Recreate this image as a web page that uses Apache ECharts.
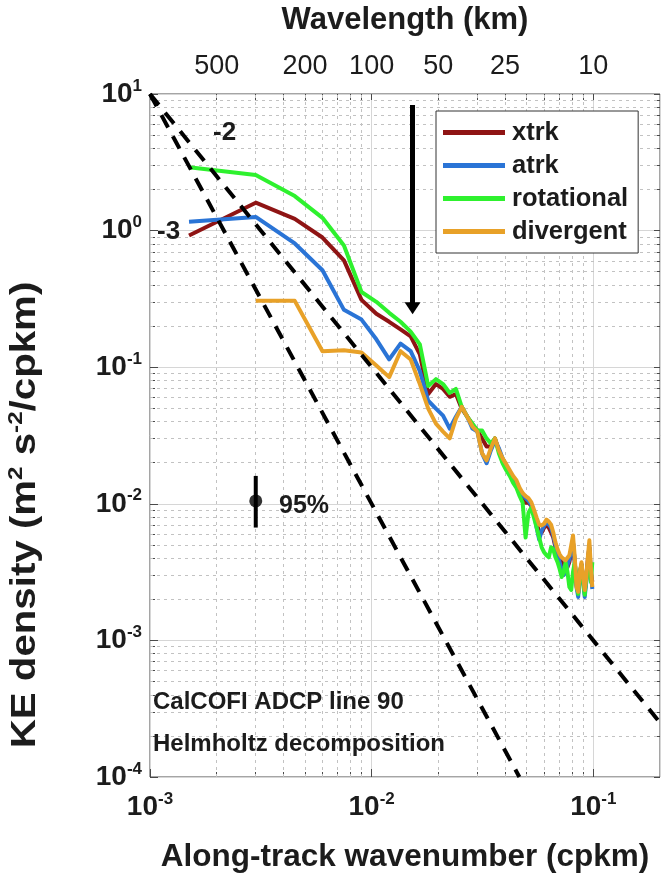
<!DOCTYPE html>
<html>
<head>
<meta charset="utf-8">
<script src="https://cdn.jsdelivr.net/npm/echarts@6/dist/echarts.min.js"></script>
<style>
  html, body { margin: 0; padding: 0; background: #fff; }
  #chart { width: 664px; height: 878px; }
</style>
</head>
<body>
<div id="chart"></div>
<script>
// Along-track wavenumber (cpkm) of each spectral estimate
const wavenumber = [
  0.0015, 0.003, 0.0045, 0.006, 0.0075, 0.009, 0.0105, 0.012, 0.0135, 0.015,
  0.0165, 0.018, 0.0195, 0.021, 0.0225, 0.024, 0.0255, 0.027, 0.0285, 0.03,
  0.0315, 0.033, 0.0345, 0.036, 0.0375, 0.039, 0.0405, 0.042, 0.0435, 0.045,
  0.0465, 0.048, 0.0495, 0.051, 0.0525, 0.054, 0.0555, 0.057, 0.0585, 0.06,
  0.0615, 0.063, 0.0645, 0.066, 0.0675, 0.069, 0.0705, 0.072, 0.0735, 0.075,
  0.0765, 0.078, 0.0795, 0.081, 0.0825, 0.084, 0.0855, 0.087, 0.0885, 0.09,
  0.0915, 0.093, 0.0945, 0.096, 0.0975, 0.099
];

// KE spectral density (m^2 s^-2 / cpkm)
const xtrk = [
  0.920, 1.60, 1.22, 0.890, 0.606, 0.311, 0.246, 0.215, 0.189, 0.168,
  0.124, 0.0637, 0.0753, 0.0693, 0.0607, 0.0637, 0.0497, 0.0434, 0.0380, 0.0344,
  0.0301, 0.0263, 0.0263, 0.0301, 0.0246, 0.0208, 0.0182, 0.0165, 0.0149, 0.0135,
  0.0120, 0.0110, 0.0102, 0.0102, 0.00968, 0.00861, 0.00729, 0.00616, 0.00616, 0.00670,
  0.00693, 0.00670, 0.00616, 0.00567, 0.00480, 0.00420, 0.00386, 0.00374, 0.00355, 0.00344,
  0.00344, 0.00374, 0.00442, 0.00522, 0.00374, 0.00255, 0.00223, 0.00316, 0.00361, 0.00281,
  0.00227, 0.00281, 0.00393, 0.00480, 0.00316, 0.00268
];
const atrk = [
  1.16, 1.26, 0.805, 0.513, 0.263, 0.223, 0.160, 0.114, 0.149, 0.131,
  0.0936, 0.0568, 0.0497, 0.0442, 0.0355, 0.0434, 0.0513, 0.0434, 0.0355, 0.0338,
  0.0234, 0.0198, 0.0246, 0.0291, 0.0255, 0.0215, 0.0188, 0.0171, 0.0154, 0.0142,
  0.0126, 0.0116, 0.0110, 0.0105, 0.00984, 0.00861, 0.00670, 0.00548, 0.00637, 0.00693,
  0.00729, 0.00704, 0.00670, 0.00586, 0.00496, 0.00435, 0.00374, 0.00327, 0.00301, 0.00316,
  0.00355, 0.00393, 0.00406, 0.00522, 0.00374, 0.00246, 0.00208, 0.00301, 0.00355, 0.00268,
  0.00208, 0.00268, 0.00374, 0.00480, 0.00316, 0.00238
];
const rotational = [
  2.91, 2.55, 1.79, 1.24, 0.778, 0.355, 0.301, 0.250, 0.215, 0.182,
  0.147, 0.0728, 0.0818, 0.0753, 0.0648, 0.0693, 0.0513, 0.0434, 0.0386, 0.0344,
  0.0344, 0.0301, 0.0277, 0.0301, 0.0234, 0.0198, 0.0176, 0.0160, 0.0142, 0.0131,
  0.0114, 0.0102, 0.00567, 0.00861, 0.00936, 0.00792, 0.00670, 0.00567, 0.00480, 0.00442,
  0.00420, 0.00406, 0.00480, 0.00464, 0.00406, 0.00374, 0.00333, 0.00291, 0.00316, 0.00374,
  0.00316, 0.00246, 0.00234, 0.00316, 0.00374, 0.00268, 0.00219, 0.00316, 0.00355, 0.00268,
  0.00216, 0.00291, 0.00344, 0.00374, 0.00268, 0.00374
];
const divergent = [
  null, 0.306, 0.306, 0.131, 0.133, 0.128, 0.103, 0.0846, 0.131, 0.114,
  0.0753, 0.0497, 0.0386, 0.0338, 0.0301, 0.0420, 0.0513, 0.0434, 0.0367, 0.0338,
  0.0234, 0.0208, 0.0255, 0.0301, 0.0246, 0.0215, 0.0195, 0.0176, 0.0160, 0.0149,
  0.0131, 0.0120, 0.0114, 0.0110, 0.0103, 0.00906, 0.00792, 0.00704, 0.00693, 0.00716,
  0.00766, 0.00741, 0.00704, 0.00616, 0.00522, 0.00464, 0.00427, 0.00406, 0.00393, 0.00386,
  0.00374, 0.00420, 0.00496, 0.00586, 0.00406, 0.00246, 0.00227, 0.00316, 0.00374, 0.00291,
  0.00234, 0.00291, 0.00406, 0.00540, 0.00344, 0.00246
];

// Wavelength ticks of the upper axis (km)
const wavelengthTicks = [500, 200, 100, 50, 25, 10];

// Reference power-law slopes k^-2 and k^-3
const slopeMinus2 = [[0.001, 10], [0.2, 2.5e-4]];
const slopeMinus3 = [[0.001, 10], [0.0464, 1e-4]];

// Marked wavenumber (arrow) and 95% confidence bar
const arrowLine = [[0.0153, 8.3], [0.0153, 0.27]];
const confBar = [[0.003, 0.016], [0.003, 0.0067]];
const confCenter = [[0.003, 0.0105]];

const INK = '#1c1c1c';
const FRAME = '#4a4a4a';
const FONT = '"Liberation Sans", Arial, Helvetica, sans-serif';
const X_MIN = 0.001, X_MAX = 0.2, Y_MIN = 1e-4, Y_MAX = 10;

const pairs = vals => wavenumber.map((k, i) => [k, vals[i]]).filter(p => p[1] != null);

const powLabel = v => {
  const e = Math.log10(v);
  const r = Math.round(e);
  if (Math.abs(e - r) > 1e-6) return '';
  return '{b|10}{s|' + r + '}';
};
const powRich = {
  b: { fontSize: 28, fontWeight: 'bold', color: INK, fontFamily: FONT },
  s: { fontSize: 17, fontWeight: 'bold', color: INK, fontFamily: FONT, padding: [0, 0, 16, 0] }
};

// 2..9 multiples within each decade, for the dotted grid and the small ticks
const minorX = [], minorY = [];
for (let e = -3; e <= -1; e++) for (let m = 2; m <= 9; m++) { const v = m * Math.pow(10, e); if (v < X_MAX) minorX.push(v); }
for (let e = -4; e <= 0; e++) for (let m = 2; m <= 9; m++) minorY.push(m * Math.pow(10, e));
const log10All = arr => arr.map(v => Math.log10(v));
const majorXLog = [-3, -2, -1];
const majorYLog = [-4, -3, -2, -1, 0, 1];

// helper axes in log10 units carrying the small frame ticks
const tickAxis = (pos, min, max, values, len) => ({
  type: 'value', min, max, position: pos,
  axisLine: { show: false, onZero: false }, axisLabel: { show: false }, splitLine: { show: false },
  axisTick: { show: true, inside: true, length: len, customValues: values, lineStyle: { color: FRAME, width: 1 } }
});

const specSeries = (name, vals, color) => ({
  name, type: 'line', data: pairs(vals), showSymbol: false, symbol: 'none',
  lineStyle: { color, width: 4, join: 'round' }, itemStyle: { color },
  xAxisIndex: 0, yAxisIndex: 0
});

const bold = (size, text, extra) => Object.assign({ text, fontSize: size, fontWeight: 'bold', fill: INK, fontFamily: FONT }, extra || {});

const chart = echarts.init(document.getElementById('chart'), null, { renderer: 'canvas' });

chart.setOption({
  animation: false,
  backgroundColor: '#fff',
  textStyle: { fontFamily: FONT },
  grid: { left: 150, top: 92, width: 510, height: 690, show: true, borderColor: FRAME, borderWidth: 1, backgroundColor: '#fff' },
  legend: {
    data: ['xtrk', 'atrk', 'rotational', 'divergent'],
    orient: 'vertical', left: 436, top: 111, z: 20,
    padding: [8, 10, 8, 7],
    itemWidth: 62, itemHeight: 5, itemGap: 6,
    icon: 'rect',
    borderColor: '#333', borderWidth: 1, backgroundColor: '#fff',
    textStyle: { fontSize: 25.5, fontWeight: 'bold', color: INK, fontFamily: FONT, lineHeight: 27, padding: [0, 0, 0, 2] }
  },
  xAxis: [
    {
      type: 'log', logBase: 10, min: X_MIN, max: X_MAX,
      position: 'bottom',
      axisLine: { show: false, onZero: false },
      axisTick: { show: true, inside: true, length: 8, lineStyle: { color: FRAME } },
      splitLine: { show: true, lineStyle: { color: '#d6d6d6', width: 1 } },
      axisLabel: { formatter: powLabel, rich: powRich, margin: 14, showMaxLabel: false },
      name: 'Along-track wavenumber (cpkm)', nameLocation: 'middle', nameGap: 64,
      nameTextStyle: { fontSize: 31.5, fontWeight: 'bold', color: INK, fontFamily: FONT }
    },
    {
      type: 'value', min: Math.log10(X_MIN), max: Math.log10(X_MAX), position: 'top',
      axisLine: { show: false, onZero: false }, splitLine: { show: false },
      axisTick: { show: true, inside: true, length: 6, customValues: majorXLog.concat(log10All(minorX)), lineStyle: { color: FRAME } },
      axisLabel: {
        customValues: wavelengthTicks.map(w => Math.log10(1 / w)),
        formatter: v => String(Math.round(1 / Math.pow(10, v))),
        fontSize: 27, color: INK, fontFamily: FONT, margin: 14
      },
      name: 'Wavelength (km)', nameLocation: 'middle', nameGap: 58,
      nameTextStyle: { fontSize: 31, fontWeight: 'bold', color: INK, fontFamily: FONT }
    },
    tickAxis('bottom', Math.log10(X_MIN), Math.log10(X_MAX), log10All(minorX), 5)
  ],
  yAxis: [
    {
      type: 'log', logBase: 10, min: Y_MIN, max: Y_MAX,
      axisLine: { show: false, onZero: false },
      axisTick: { show: true, inside: true, length: 8, lineStyle: { color: FRAME } },
      splitLine: { show: true, lineStyle: { color: '#d6d6d6', width: 1 } },
      axisLabel: { formatter: powLabel, rich: powRich, margin: 8 }
    },
    tickAxis('left', Math.log10(Y_MIN), Math.log10(Y_MAX), log10All(minorY), 5),
    tickAxis('right', Math.log10(Y_MIN), Math.log10(Y_MAX), majorYLog.concat(log10All(minorY)), 6)
  ],
  graphic: [
    { type: 'text', x: 6, y: 515, rotation: Math.PI / 2, scaleX: 1.15, z: 100,
      style: { text: '{t|KE density (m}{s|2}{t| s}{s|-2}{t|/cpkm)}', align: 'center', verticalAlign: 'top', rich: {
        t: bold(35),
        s: bold(21, undefined, { padding: [0, 0, 18, 0] })
      } } },
    { type: 'text', left: 213, top: 120, z: 100, style: bold(26, '-2') },
    { type: 'text', left: 157, top: 219, z: 100, style: bold(26, '-3') },
    { type: 'text', left: 153, top: 690, z: 100, style: bold(24, 'CalCOFI ADCP line 90') },
    { type: 'text', left: 153, top: 732, z: 100, style: bold(24, 'Helmholtz decomposition') },
    { type: 'text', left: 279, top: 494, z: 100, style: bold(25, '95%') }
  ],
  series: [
    {
      // dotted grid at the 2..9 multiples of every decade, kept beneath the data
      name: 'minor grid', type: 'line', data: [], silent: true, z: 1,
      markLine: {
        silent: true, z: 1, symbol: 'none', precision: 12, label: { show: false },
        lineStyle: { color: '#c2c2c2', type: [3, 4], width: 1 },
        emphasis: { disabled: true },
        data: minorX.map(v => ({ xAxis: v })).concat(minorY.map(v => ({ yAxis: v })))
      }
    },
    specSeries('xtrk', xtrk, '#8f1414'),
    specSeries('atrk', atrk, '#2a74d6'),
    specSeries('rotational', rotational, '#2ef12e'),
    specSeries('divergent', divergent, '#e8a128'),
    { name: 'k-2', type: 'line', data: slopeMinus2, symbol: 'none', lineStyle: { color: '#000', width: 4, type: [14, 10] }, z: 3 },
    { name: 'k-3', type: 'line', data: slopeMinus3, symbol: 'none', lineStyle: { color: '#000', width: 4, type: [14, 10] }, z: 3 },
    {
      name: 'arrow', type: 'line', data: [], silent: true, z: 4,
      markLine: {
        silent: true, z: 6, symbol: ['none', 'triangle'], symbolSize: [16, 12], precision: 12, label: { show: false },
        lineStyle: { color: '#000', width: 5, type: 'solid' },
        data: [[{ coord: arrowLine[0] }, { coord: arrowLine[1] }]]
      }
    },
    { name: 'ci', type: 'line', data: confBar, symbol: 'none', lineStyle: { color: '#000', width: 4 }, z: 4 },
    { name: 'ci center', type: 'scatter', data: confCenter, symbolSize: 13, itemStyle: { color: '#000' }, z: 5 }
  ]
});
</script>
</body>
</html>
